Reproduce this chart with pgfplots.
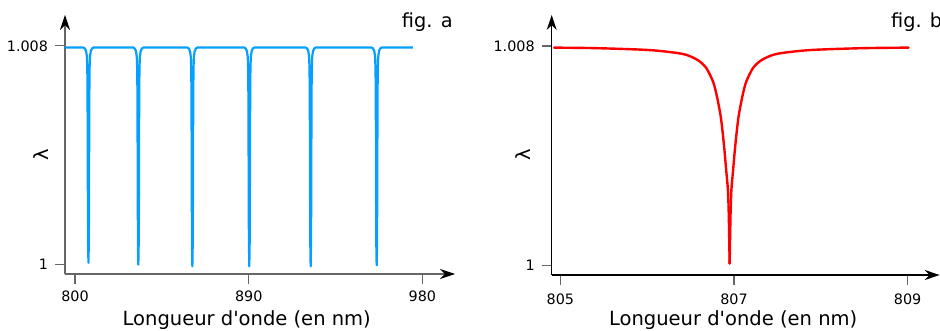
\documentclass[border=0pt]{standalone}
\usepackage{pgfplots}
\pgfplotsset{compat=1.18}
\usepackage{fontspec}
\setmainfont{DejaVu Sans}
\usetikzlibrary{arrows.meta}
\definecolor{cblue}{HTML}{05A0FF}
\definecolor{cred}{HTML}{FF0000}
\pgfplotsset{
  myaxis/.style={
    scale only axis,
    axis lines=left,
    axis line style={line width=0.6bp, -{Stealth[length=7.5bp,width=5bp,color=black]}},
    tick align=outside,
    major tick length=5bp,
    tick style={draw=black!60, line width=0.6bp},
    ticklabel style={font=\fontsize{7.2}{8}\selectfont, text=black},
    /pgf/number format/assume math mode=true,
    ytick={1,1.008}, yticklabels={1,1.008},
    ymin=0.99965, ymax=1.00913,
    label style={font=\fontsize{9.8}{11}\selectfont},
    xlabel={Longueur d\textquotesingle onde (en nm)},
    ylabel={λ},
    clip=false,
  }
}
\begin{document}
\begin{tikzpicture}
\useasboundingbox (0,0) rectangle (470bp,165.5bp);
% ---------- fig a ----------
\begin{axis}[myaxis,
  at={(32.5bp,28.5bp)}, anchor=south west,
  width=195bp, height=129.5bp,
  xmin=794.8, xmax=996.9,
  xtick={800,890,980},
  axis line style={draw=black!60},
  xlabel style={at={(axis description cs:0.466,0)}, anchor=base, yshift=-25.5bp},
  ylabel style={at={(axis description cs:0,0.459)}, anchor=center, yshift=12.15bp},
]
\addplot[cblue, line width=1.1bp, line join=round] coordinates {
(794.9,1.00794)
(804.35,1.00794)(805.15,1.00790)(805.75,1.00780)(806.15,1.00760)(806.35,1.00720)(806.45,1.00650)(806.55,1.00500)(806.65,1.00250)(806.75,1.00080)(806.95,1.00006)(807.15,1.00080)(807.25,1.00250)(807.35,1.00500)(807.45,1.00650)(807.55,1.00720)(807.75,1.00760)(808.15,1.00780)(808.75,1.00790)(809.55,1.00794)
(830.2,1.00794)(831.0,1.00790)(831.6,1.00780)(832.0,1.00760)(832.2,1.00720)(832.3,1.00650)(832.4,1.00500)(832.5,1.00250)(832.6,1.00080)(832.8,0.99999)(833.0,1.00080)(833.1,1.00250)(833.2,1.00500)(833.3,1.00650)(833.4,1.00720)(833.6,1.00760)(834.0,1.00780)(834.6,1.00790)(835.4,1.00794)
(858.2,1.00794)(859.0,1.00790)(859.6,1.00780)(860.0,1.00760)(860.2,1.00720)(860.3,1.00650)(860.4,1.00500)(860.5,1.00250)(860.6,1.00080)(860.8,0.99993)(861.0,1.00080)(861.1,1.00250)(861.2,1.00500)(861.3,1.00650)(861.4,1.00720)(861.6,1.00760)(862.0,1.00780)(862.6,1.00790)(863.4,1.00794)
(887.7,1.00794)(888.5,1.00790)(889.1,1.00780)(889.5,1.00760)(889.7,1.00720)(889.8,1.00650)(889.9,1.00500)(890.0,1.00250)(890.1,1.00080)(890.3,0.99993)(890.5,1.00080)(890.6,1.00250)(890.7,1.00500)(890.8,1.00650)(890.9,1.00720)(891.1,1.00760)(891.5,1.00780)(892.1,1.00790)(892.9,1.00794)
(919.5,1.00794)(920.3,1.00790)(920.9,1.00780)(921.3,1.00760)(921.5,1.00720)(921.6,1.00650)(921.7,1.00500)(921.8,1.00250)(921.9,1.00080)(922.1,0.99993)(922.3,1.00080)(922.4,1.00250)(922.5,1.00500)(922.6,1.00650)(922.7,1.00720)(922.9,1.00760)(923.3,1.00780)(923.9,1.00790)(924.7,1.00794)
(953.7,1.00794)(954.5,1.00790)(955.1,1.00780)(955.5,1.00760)(955.7,1.00720)(955.8,1.00650)(955.9,1.00500)(956.0,1.00250)(956.1,1.00080)(956.3,0.99997)(956.5,1.00080)(956.6,1.00250)(956.7,1.00500)(956.8,1.00650)(956.9,1.00720)(957.1,1.00760)(957.5,1.00780)(958.1,1.00790)(958.9,1.00794)
(975.1,1.00794)
};
\end{axis}
% ---------- fig b ----------
\begin{axis}[myaxis,
  at={(275.85bp,28bp)}, anchor=south west,
  width=194bp, height=130bp,
  xmin=804.9, xmax=809.37,
  xtick={805,807,809},
  axis line style={draw=black},
  xticklabel style={yshift=-1bp},
  xlabel style={at={(axis description cs:0.4677,0)}, anchor=base, yshift=-25bp},
  ylabel style={at={(axis description cs:0,0.4615)}, anchor=center, yshift=14.2bp},
]
\addplot[cred, line width=1.2bp, smooth, tension=0.45, line cap=round] coordinates {
(804.93,1.00794)(805.42,1.00792)(806.03,1.00785)(806.41,1.00771)(806.58,1.00749)(806.68,1.00720)(806.76,1.00669)(806.80,1.00621)(806.83,1.00574)(806.85,1.00537)(806.87,1.00483)(806.89,1.00421)(806.91,1.00348)(806.93,1.00275)(806.94,1.00184)(806.95,1.00007)
};
\addplot[cred, line width=1.2bp, smooth, tension=0.45, line cap=round] coordinates {
(806.95,1.00007)(806.96,1.00184)(806.97,1.00275)(806.99,1.00348)(807.01,1.00421)(807.03,1.00483)(807.05,1.00537)(807.07,1.00574)(807.10,1.00621)(807.14,1.00669)(807.22,1.00720)(807.32,1.00749)(807.49,1.00771)(807.87,1.00785)(808.48,1.00792)(809.01,1.00794)
};
\end{axis}
\node[anchor=base east, font=\fontsize{9.7}{11}\selectfont, inner sep=0pt] at (226.5bp,151.5bp) {fig. a};
\node[anchor=base west, font=\fontsize{9.7}{11}\selectfont, inner sep=0pt] at (445.4bp,151.5bp) {fig. b};
\end{tikzpicture}
\end{document}
